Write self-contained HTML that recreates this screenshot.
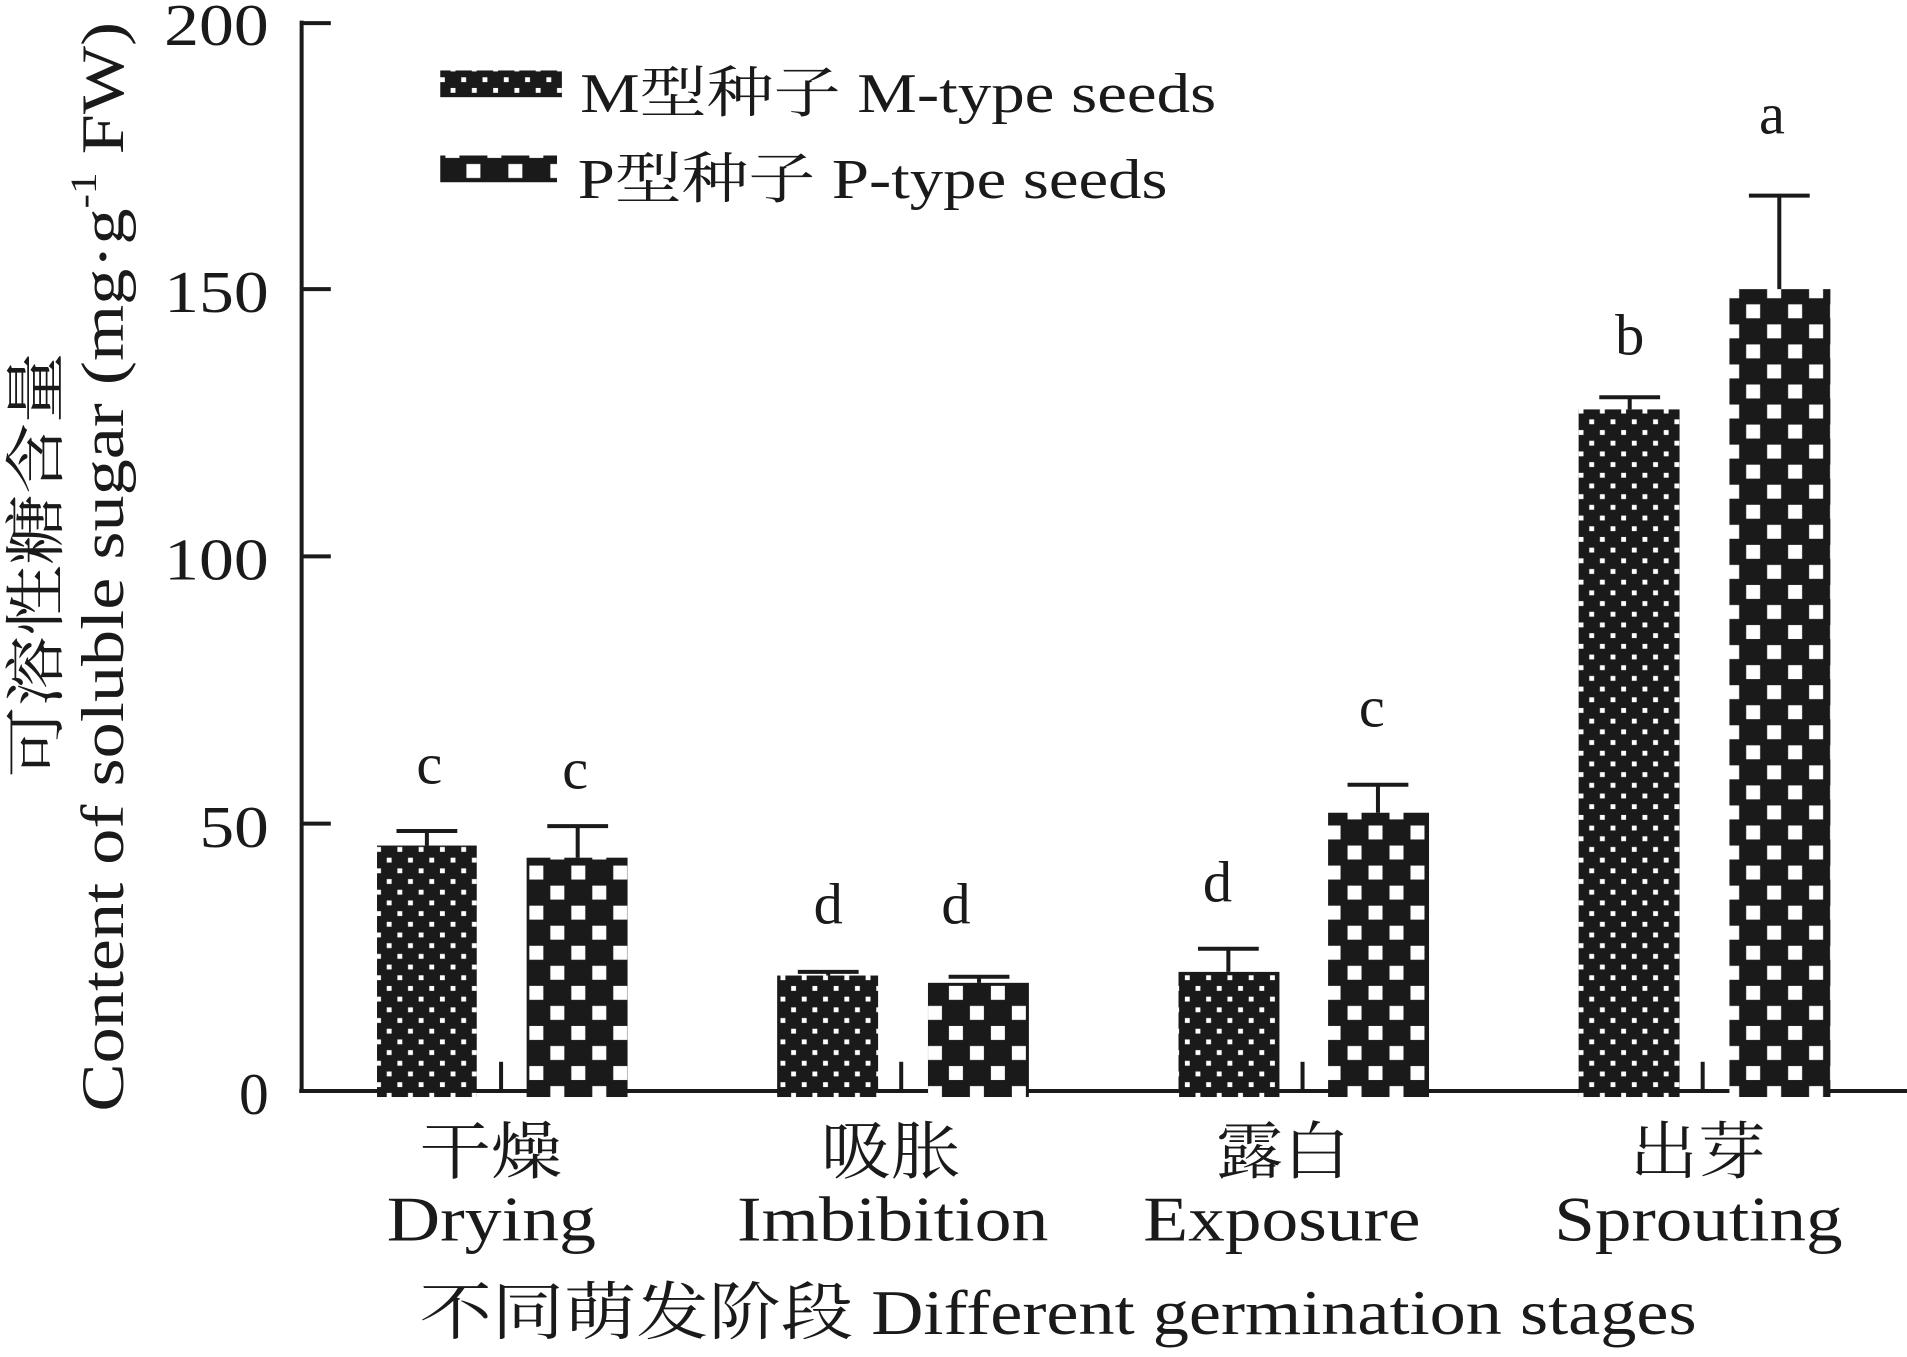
<!DOCTYPE html>
<html><head><meta charset="utf-8"><style>
html,body{margin:0;padding:0;background:#fff;}
svg{display:block;}
text{font-family:"Liberation Serif","Noto Serif CJK SC",serif;fill:#1a1a1a;}
</style></head><body>
<svg width="1907" height="1357" viewBox="0 0 1568 1117" preserveAspectRatio="none" xmlns="http://www.w3.org/2000/svg">
<defs>
<pattern id="pm" patternUnits="userSpaceOnUse" width="17.5" height="17.6" x="0" y="0">
<rect width="17.5" height="17.6" fill="#1a1a1a"/>
<rect x="3" y="2" width="4" height="4" fill="#fff"/>
<rect x="11.75" y="10.8" width="4" height="4" fill="#fff"/>
</pattern>
<pattern id="pp" patternUnits="userSpaceOnUse" width="34.5" height="33" x="0" y="0">
<rect width="34.5" height="33" fill="#1a1a1a"/>
<rect x="4" y="3" width="11.5" height="11.5" fill="#fff"/>
<rect x="21.25" y="19.5" width="11.5" height="11.5" fill="#fff"/>
</pattern>
</defs>
<g fill="none" stroke="#1a1a1a" stroke-width="3.3">
<line x1="248" y1="17" x2="248" y2="898"/>
<line x1="246" y1="898" x2="1568" y2="898"/>
<line x1="248" y1="19" x2="272" y2="19"/>
<line x1="248" y1="238" x2="272" y2="238"/>
<line x1="248" y1="458" x2="272" y2="458"/>
<line x1="248" y1="678" x2="272" y2="678"/>
<line x1="412" y1="874" x2="412" y2="898"/>
<line x1="741" y1="874" x2="741" y2="898"/>
<line x1="1071" y1="874" x2="1071" y2="898"/>
<line x1="1400" y1="874" x2="1400" y2="898"/>
</g>
<g font-size="49" text-anchor="end">
<text x="221" y="37" textLength="86" lengthAdjust="spacingAndGlyphs">200</text>
<text x="221" y="257" textLength="86" lengthAdjust="spacingAndGlyphs">150</text>
<text x="221" y="477" textLength="86" lengthAdjust="spacingAndGlyphs">100</text>
<text x="221" y="697" textLength="57" lengthAdjust="spacingAndGlyphs">50</text>
<text x="221" y="917">0</text>
</g>
<g>
<rect x="310" y="696" width="82" height="207" fill="url(#pm)"/>
<rect x="433" y="706" width="83" height="197" fill="url(#pp)"/>
<rect x="639" y="803" width="83" height="100" fill="url(#pm)"/>
<rect x="763" y="809" width="83" height="94" fill="url(#pp)"/>
<rect x="969" y="800" width="83" height="103" fill="url(#pm)"/>
<rect x="1092" y="669" width="83" height="234" fill="url(#pp)"/>
<rect x="1298" y="337" width="83" height="566" fill="url(#pm)"/>
<rect x="1422" y="238" width="83" height="665" fill="url(#pp)"/>
</g>
<g stroke="#1a1a1a" stroke-width="3.3" fill="none">
<path d="M351 696V684M326 684H376"/>
<path d="M475 706V680M450 680H500"/>
<path d="M681 803V800M656 800H706"/>
<path d="M805 809V804M780 804H830"/>
<path d="M1010 800V781M985 781H1035"/>
<path d="M1133 669V646M1108 646H1158"/>
<path d="M1340 337V327M1315 327H1365"/>
<path d="M1463 238V161M1438 161H1488"/>
</g>
<g font-size="48" text-anchor="middle">
<text x="353" y="645">c</text>
<text x="473" y="649">c</text>
<text x="681" y="760">d</text>
<text x="786" y="760">d</text>
<text x="1001" y="742">d</text>
<text x="1128" y="598">c</text>
<text x="1340" y="292">b</text>
<text x="1457" y="110">a</text>
</g>
<rect x="362" y="58" width="100" height="22" fill="url(#pm)"/>
<rect x="362" y="128" width="96" height="22" fill="url(#pp)"/>
<text x="477" y="92" font-size="46" textLength="523" lengthAdjust="spacingAndGlyphs">M型种子 M-type seeds</text>
<text x="475" y="163" font-size="46" textLength="485" lengthAdjust="spacingAndGlyphs">P型种子 P-type seeds</text>
<g font-size="52">
<text x="345" y="966" textLength="117" lengthAdjust="spacingAndGlyphs">干燥</text>
<text x="675" y="966" textLength="115" lengthAdjust="spacingAndGlyphs">吸胀</text>
<text x="1000" y="966" textLength="110" lengthAdjust="spacingAndGlyphs">露白</text>
<text x="1340" y="966" textLength="112" lengthAdjust="spacingAndGlyphs">出芽</text>
<text x="318" y="1021" textLength="172" lengthAdjust="spacingAndGlyphs">Drying</text>
<text x="606" y="1021" textLength="256" lengthAdjust="spacingAndGlyphs">Imbibition</text>
<text x="940" y="1021" textLength="228" lengthAdjust="spacingAndGlyphs">Exposure</text>
<text x="1278" y="1021" textLength="237" lengthAdjust="spacingAndGlyphs">Sprouting</text>
<text x="345" y="1098" textLength="1050" lengthAdjust="spacingAndGlyphs">不同萌发阶段 Different germination stages</text>
</g>
<text transform="translate(47,640) rotate(-90)" font-size="50" textLength="350" lengthAdjust="spacingAndGlyphs">可溶性糖含量</text>
<text transform="translate(101,915) rotate(-90)" font-size="50" textLength="897" lengthAdjust="spacingAndGlyphs">Content of soluble sugar (mg·g<tspan dy="-22" font-size="30">-1</tspan><tspan dy="22"> FW)</tspan></text>
</svg>
</body></html>
